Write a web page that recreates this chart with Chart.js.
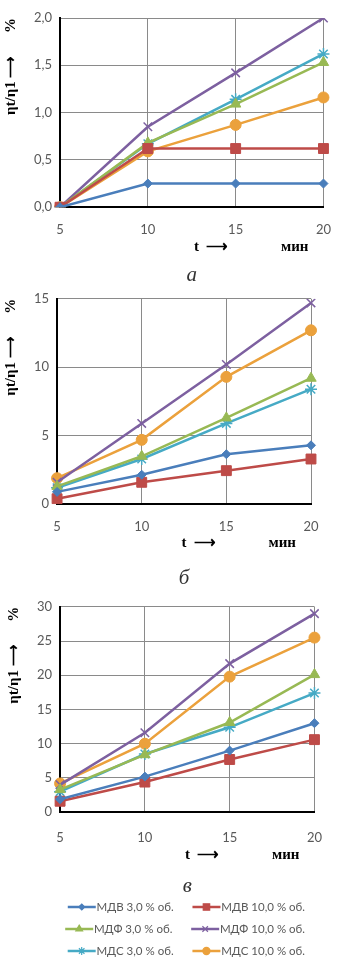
<!DOCTYPE html>
<html>
<head>
<meta charset="utf-8">
<script src="https://cdn.jsdelivr.net/npm/chart.js@4/dist/chart.umd.min.js"></script>
<style>
  body { margin: 0; background: #fff; overflow: hidden; }
  canvas { position: absolute; left: 0; }
</style>
</head>
<body>
<canvas id="chartA" width="346" height="292" style="top:0"></canvas>
<canvas id="chartB" width="337" height="312" style="top:283px"></canvas>
<canvas id="chartC" width="340" height="378" style="top:591px"></canvas>
<script>
// время, мин
const times = ['5', '10', '15', '20'];
const names = ['МДВ 3,0 % об.', 'МДВ 10,0 % об.', 'МДФ 3,0 % об.', 'МДФ 10,0 % об.', 'МДС 3,0 % об.', 'МДС 10,0 % об.'];

// рисунок а
const mdv3a = [0, 0.25, 0.25, 0.25];
const mdv10a = [0, 0.62, 0.62, 0.62];
const mdf3a = [0, 0.68, 1.09, 1.53];
const mdf10a = [0, 0.85, 1.42, 2.0];
const mds3a = [0, 0.67, 1.14, 1.62];
const mds10a = [0, 0.59, 0.87, 1.16];

// рисунок б
const mdv3b = [0.9, 2.15, 3.65, 4.3];
const mdv10b = [0.4, 1.6, 2.45, 3.3];
const mdf3b = [1.3, 3.5, 6.3, 9.2];
const mdf10b = [1.6, 5.9, 10.2, 14.7];
const mds3b = [1.2, 3.3, 5.9, 8.4];
const mds10b = [1.9, 4.7, 9.3, 12.7];

// рисунок в
const mdv3c = [1.9, 5.2, 9.0, 13.0];
const mdv10c = [1.6, 4.4, 7.7, 10.6];
const mdf3c = [3.3, 8.4, 13.1, 20.1];
const mdf10c = [4.0, 11.6, 21.7, 29.0];
const mds3c = [3.0, 8.5, 12.4, 17.4];
const mds10c = [4.2, 10.0, 19.8, 25.5];

// шкала Y: максимум и шаг
const yMaxA = 2.0, yStepA = 0.5;
const yMaxB = 15, yStepB = 5;
const yMaxC = 30, yStepC = 5;

const colors = ['#4a7ebb', '#be4b48', '#98b954', '#7d60a0', '#46aac5', '#eba13c'];
const styles = ['rectRot', 'rect', 'triangle', 'crossRot', 'star', 'circle'];
const radii = [4.5, 7, 6, 6, 6, 5.5];

function makeSets(arrs) {
  return arrs.map((d, i) => ({
    label: names[i],
    data: d,
    borderColor: colors[i],
    backgroundColor: colors[i],
    pointStyle: styles[i],
    pointRadius: radii[i],
    pointBorderWidth: (styles[i] == 'crossRot' || styles[i] == 'star') ? 1.5 : 1,
    borderWidth: 2.5,
    tension: 0
  }));
}

const fmt = (dec) => (v) => dec ? v.toFixed(1).replace('.', ',') : String(v);

// линия с маркером в легенде
const legendMarks = {
  id: 'legendMarks',
  afterDraw(chart) {
    const lg = chart.legend;
    if (!lg || !lg.options.display || !lg.legendHitBoxes) return;
    const ctx = chart.ctx;
    const bw = lg.options.labels.boxWidth + 5;
    lg.legendItems.forEach((item, i) => {
      const box = lg.legendHitBoxes[i];
      const ds = chart.data.datasets[item.datasetIndex];
      const y = box.top + box.height / 2;
      const x0 = box.left, x1 = box.left + bw;
      ctx.save();
      ctx.strokeStyle = ds.borderColor;
      ctx.lineWidth = 2.5;
      ctx.beginPath(); ctx.moveTo(x0, y); ctx.lineTo(x1, y); ctx.stroke();
      ctx.fillStyle = ds.backgroundColor;
      ctx.lineWidth = 1.2;
      Chart.helpers.drawPoint(ctx, {pointStyle: ds.pointStyle, radius: ds.pointRadius * 0.65, rotation: 0, borderWidth: 1.2}, (x0 + x1) / 2, y);
      ctx.restore();
    });
  }
};

function makeChart(id, arrs, yMax, yStep, dec, caption, withLegend, pad, tickPad, titlePad, capPad) {
  return new Chart(document.getElementById(id), {
    type: 'line',
    data: { labels: times, datasets: makeSets(arrs) },
    plugins: [legendMarks],
    options: {
      responsive: false,
      animation: false,
      layout: { padding: pad },
      plugins: {
        legend: {
          display: withLegend,
          position: 'bottom',
          align: 'end',
          labels: {
            boxWidth: 23,
            boxHeight: 12,
            padding: 10,
            color: '#595959',
            font: { family: 'Lato', size: 11.5 },
            generateLabels: (ch) => Chart.defaults.plugins.legend.labels.generateLabels(ch)
              .map((l, i) => ({ ...l, fillStyle: 'rgba(0,0,0,0)', strokeStyle: 'rgba(0,0,0,0)', lineWidth: 0, text: i % 2 == 0 ? l.text + '   ' : l.text }))
          }
        },
        title: {
          display: true,
          text: caption,
          position: 'bottom',
          fullSize: false,
          weight: 500,
          color: '#333',
          font: { family: 'Liberation Serif', size: 21, style: 'italic', weight: 'normal' },
          padding: { top: capPad, bottom: withLegend ? -8 : 0 }
        },
        tooltip: { enabled: false }
      },
      scales: {
        x: {
          offset: false,
          grid: { color: '#8a8a8a', lineWidth: 1, drawTicks: false },
          border: { color: '#000', width: 2 },
          ticks: { color: '#595959', font: { family: 'Lato', size: 13 }, padding: tickPad },
          title: {
            display: true,
            align: 'end',
            text: 't  ⟶              мин    ',
            color: '#000',
            font: { family: 'Liberation Serif', size: 15, weight: 'bold' },
            padding: { top: titlePad, bottom: 0 }
          }
        },
        y: {
          min: 0,
          max: yMax,
          grid: { color: '#8a8a8a', lineWidth: 1, drawTicks: false },
          border: { color: '#000', width: 2 },
          ticks: { stepSize: yStep, color: '#595959', font: { family: 'Lato', size: 13 }, padding: 8, callback: fmt(dec) },
          title: {
            display: true,
            align: 'end',
            text: 'ηt/η1 ⟶      %',
            color: '#000',
            font: { family: 'Liberation Serif', size: 15, weight: 'bold' },
            padding: { top: 0, bottom: 6 }
          }
        }
      }
    }
  });
}

makeChart('chartA', [mdv3a, mdv10a, mdf3a, mdf10a, mds3a, mds10a], yMaxA, yStepA, true, 'а', false,
  { top: 18, right: 7, left: 2, bottom: 4 }, 15, -15, 7);
makeChart('chartB', [mdv3b, mdv10b, mdf3b, mdf10b, mds3b, mds10b], yMaxB, yStepB, false, 'б', false,
  { top: 2, right: 26, left: 2, bottom: 4 }, 15, -16, 14);
makeChart('chartC', [mdv3c, mdv10c, mdf3c, mdf10c, mds3c, mds10c], yMaxC, yStepC, false, 'в', true,
  { top: 10, right: 25, left: 5, bottom: 2 }, 18, -18, 10);
</script>
</body>
</html>
